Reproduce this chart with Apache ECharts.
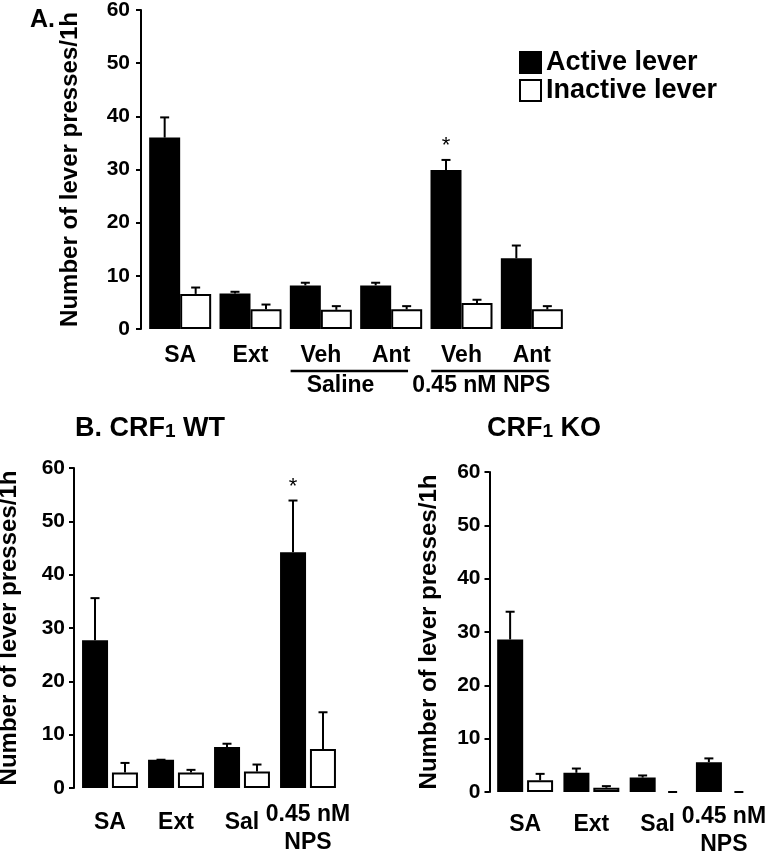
<!DOCTYPE html>
<html>
<head>
<meta charset="utf-8">
<script src="https://cdn.jsdelivr.net/npm/echarts@6/dist/echarts.min.js"></script>
<style>
html,body{margin:0;padding:0;background:#fff;}
#chart{width:775px;height:853px;}
</style>
</head>
<body>
<div id="chart"></div>
<script>
// ---------- Data ----------
const catsA = ['SA', 'Ext', 'Veh', 'Ant', 'Veh', 'Ant'];
const activeA = [36.0, 6.7, 8.2, 8.2, 29.9, 13.3];
const activeAErr = [3.8, 0.3, 0.5, 0.5, 1.9, 2.4];
const inactiveA = [6.6, 3.7, 3.6, 3.7, 4.9, 3.7];
const inactiveAErr = [1.2, 0.9, 0.7, 0.6, 0.6, 0.6];
const sigActiveA = ['', '', '', '', '*', ''];
const groupNamesA = ['Saline', '0.45 nM NPS'];
const groupFromA = [2, 4];
const groupToA = [3, 5];

const catsB = ['SA', 'Ext', 'Sal', '0.45 nM\nNPS'];
const activeWT = [27.7, 5.3, 7.7, 44.2];
const activeWTErr = [7.9, 0, 0.6, 9.7];
const inactiveWT = [2.9, 2.9, 3.1, 7.3];
const inactiveWTErr = [1.8, 0.5, 1.3, 6.9];
const sigActiveWT = ['', '', '', '*'];

const activeKO = [28.6, 3.6, 2.7, 5.6];
const activeKOErr = [5.2, 0.8, 0.4, 0.7];
const inactiveKO = [2.2, 0.8, 0, 0];
const inactiveKOErr = [1.2, 0.3, 0, 0];
const sigActiveKO = ['', '', '', ''];

const yTicks = [0, 10, 20, 30, 40, 50, 60];
const yName = 'Number of lever presses/1h';
const legendNames = ['Active lever', 'Inactive lever'];

// ---------- Layout ----------
const FONT = '"Liberation Sans", Arial, Helvetica, sans-serif';
const panels = [
  { cats: catsA, act: activeA, actErr: activeAErr, inact: inactiveA, inactErr: inactiveAErr, sig: sigActiveA,
    grid: { left: 145, top: 10, width: 422, height: 319 }, barW: 31, gap: 0, axisOffset: 4,
    labelMargin: 11, nameGap: 59, xMargin: 13 },
  { cats: catsB, act: activeWT, actErr: activeWTErr, inact: inactiveWT, inactErr: inactiveWTErr, sig: sigActiveWT,
    grid: { left: 77, top: 468, width: 264, height: 320 }, barW: 26, gap: 4, axisOffset: 3,
    labelMargin: 9, nameGap: 53, xMargin: 21 },
  { cats: catsB, act: activeKO, actErr: activeKOErr, inact: inactiveKO, inactErr: inactiveKOErr, sig: sigActiveKO,
    grid: { left: 492, top: 472, width: 265, height: 320 }, barW: 26, gap: 4, axisOffset: 2.5,
    labelMargin: 9, nameGap: 48, xMargin: 19 }
];

function errRender(sign, barW, gap) {
  return function (params, api) {
    const i = api.value(0), v = api.value(1), e = api.value(2);
    const base = api.coord([i, v]);
    const top = api.coord([i, v + e]);
    const x = base[0] + sign * (barW + gap) / 2;
    const cap = 9;
    const children = [
      { type: 'line', shape: { x1: x, y1: base[1], x2: x, y2: top[1] }, style: { stroke: '#000', lineWidth: 2 } },
      { type: 'line', shape: { x1: x - cap / 2, y1: top[1], x2: x + cap / 2, y2: top[1] }, style: { stroke: '#000', lineWidth: 2 } }
    ];
    const mark = api.value(3);
    if (mark) {
      children.push({ type: 'text', style: { text: mark, x: x, y: top[1] - 14, align: 'center', verticalAlign: 'middle',
        fontSize: 22, fontWeight: 'normal', fontFamily: FONT, fill: '#000' } });
    }
    return { type: 'group', children: children };
  };
}

const labelFont = { fontFamily: FONT, fontWeight: 'bold', fontSize: 23, color: '#000' };
function catFormatter(value) {
  if (value.indexOf('\n') < 0) return value;
  const parts = value.split('\n');
  return '{l1|' + parts[0] + '}\n{l2|' + parts[1] + '}';
}

const grids = [], xAxes = [], yAxes = [], series = [];
panels.forEach((p, k) => {
  grids.push(Object.assign({ containLabel: false, outerBoundsMode: 'none' }, p.grid));
  xAxes.push({
    type: 'category', gridIndex: k, data: p.cats,
    axisLine: { show: false }, axisTick: { show: false }, splitLine: { show: false },
    axisLabel: Object.assign({ interval: 0, lineHeight: 28, margin: p.xMargin, formatter: catFormatter,
      rich: { l1: Object.assign({ lineHeight: 12 }, labelFont), l2: Object.assign({ lineHeight: 44 }, labelFont) } }, labelFont)
  });
  yAxes.push({
    type: 'value', gridIndex: k, min: 0, max: 60, interval: 10, offset: p.axisOffset,
    name: yName, nameLocation: 'middle', nameRotate: 90, nameGap: p.nameGap,
    nameTextStyle: { color: '#000', fontFamily: FONT, fontWeight: 'bold', fontSize: 24 },
    axisLine: { show: true, lineStyle: { color: '#000', width: 2 } },
    axisTick: { show: true, length: 5, lineStyle: { color: '#000', width: 2 } },
    splitLine: { show: false },
    axisLabel: { color: '#000', fontFamily: FONT, fontWeight: 'bold', fontSize: 21, margin: p.labelMargin,
      formatter: v => yTicks.indexOf(v) >= 0 ? String(v) : '' }
  });
  const barGap = Math.round(p.gap / p.barW * 100) + '%';
  const mapZero = arr => arr.map(v => v === 0 ? { value: 0, itemStyle: { borderWidth: 0 } } : v);
  series.push({
    type: 'bar', name: legendNames[0], xAxisIndex: k, yAxisIndex: k, data: mapZero(p.act),
    barWidth: p.barW, barGap: barGap, silent: true,
    itemStyle: { color: '#000', borderColor: '#000', borderWidth: 2 }
  });
  series.push({
    type: 'bar', name: legendNames[1], xAxisIndex: k, yAxisIndex: k, data: mapZero(p.inact),
    barWidth: p.barW, barGap: barGap, silent: true,
    itemStyle: { color: '#fff', borderColor: '#000', borderWidth: 2 }
  });
  series.push({
    type: 'custom', xAxisIndex: k, yAxisIndex: k, z: 5, silent: true, clip: false,
    renderItem: errRender(-1, p.barW, p.gap),
    encode: { x: 0, y: 1 },
    data: p.act.map((v, i) => [i, v, p.actErr[i], p.sig[i]])
  });
  series.push({
    type: 'custom', xAxisIndex: k, yAxisIndex: k, z: 5, silent: true, clip: false,
    renderItem: errRender(1, p.barW, p.gap),
    encode: { x: 0, y: 1 },
    data: p.inact.map((v, i) => [i, v, p.inactErr[i], ''])
  });
});

const titleStyle = { color: '#000', fontFamily: FONT, fontWeight: 'bold', fontSize: 27 };
const subStyle = Object.assign({}, titleStyle, { fontSize: 19, padding: [6, 0, 0, 0] });
const option = {
  animation: false,
  backgroundColor: '#fff',
  title: [
    { text: 'A.', left: 25, top: 3, textStyle: Object.assign({}, titleStyle, { fontSize: 25 }) },
    { text: '{a|B. CRF}{s|1}{a| WT}', left: 70, top: 410, textStyle: { rich: { a: titleStyle, s: subStyle } } },
    { text: '{a|CRF}{s|1}{a| KO}', left: 482, top: 410, textStyle: { rich: { a: titleStyle, s: subStyle } } }
  ],
  legend: {
    data: legendNames, orient: 'vertical', left: 514, top: 44, itemWidth: 21, itemHeight: 21, itemGap: 1,
    icon: 'rect', selectedMode: false,
    textStyle: { color: '#000', fontFamily: FONT, fontWeight: 'bold', fontSize: 27 }
  },
  grid: grids, xAxis: xAxes, yAxis: yAxes, series: series
};

const chart = echarts.init(document.getElementById('chart'), null, { renderer: 'canvas' });
chart.setOption(option);

// group labels under panel A categories, positioned through the axis
const band = panels[0].grid.width / catsA.length;
const baseY = chart.convertToPixel({ yAxisIndex: 0 }, 0);
const graphics = [];
groupNamesA.forEach((name, g) => {
  const c1 = chart.convertToPixel({ xAxisIndex: 0 }, groupFromA[g]);
  const c2 = chart.convertToPixel({ xAxisIndex: 0 }, groupToA[g]);
  graphics.push({ type: 'line', shape: { x1: c1 - 0.43 * band, y1: baseY + 42, x2: c2 + 0.24 * band, y2: baseY + 42 },
    style: { stroke: '#000', lineWidth: 2.5 } });
  graphics.push({ type: 'text', x: (c1 + c2) / 2 - 0.22 * band, y: baseY + 57,
    style: { text: name, textAlign: 'center', textVerticalAlign: 'middle', font: 'bold 23px ' + FONT, fill: '#000' } });
});
chart.setOption({ graphic: graphics });
</script>
</body>
</html>
